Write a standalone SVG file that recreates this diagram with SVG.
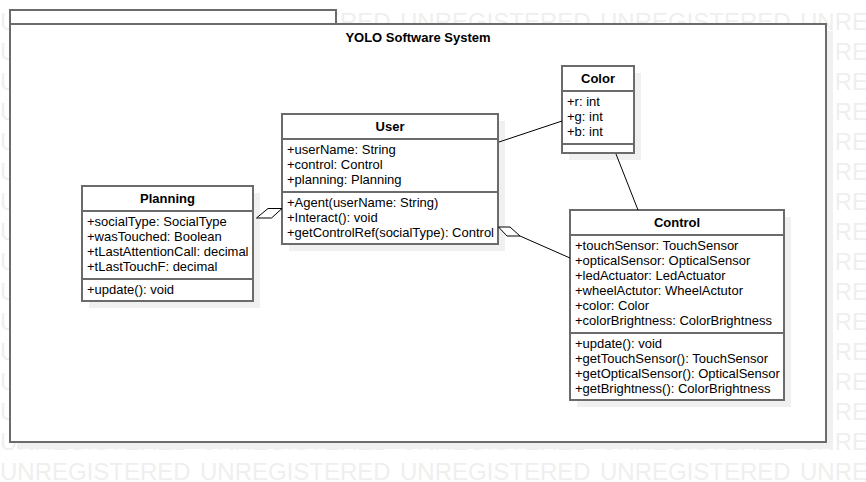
<svg xmlns="http://www.w3.org/2000/svg" xmlns:xlink="http://www.w3.org/1999/xlink" width="866" height="482" viewBox="0 0 866 482">
<style>
.wm{font-family:"Liberation Sans",Arial,sans-serif;font-size:24px;fill:#efefef}
.box{fill:#fff;stroke:#6b6b6b;stroke-width:2}
.sh{fill:#f0f0f0}
.sep{stroke:#6b6b6b;stroke-width:2}
.t{font-family:"Liberation Sans",Arial,sans-serif;font-size:13px;fill:#000}
.b{font-weight:bold;text-anchor:middle}
.ln{stroke:#000;stroke-width:1;fill:none}
.dm{stroke:#000;stroke-width:1;fill:#fff}
</style>
<defs>
<g id="wmrow" class="wm">
<text x="0">UNREGISTERED</text><text x="200">UNREGISTERED</text><text x="400">UNREGISTERED</text><text x="600">UNREGISTERED</text><text x="800">UNREGISTERED</text>
</g>
</defs>
<rect width="866" height="482" fill="#fff"/>
<g id="watermark">
<use xlink:href="#wmrow" y="30"/><use xlink:href="#wmrow" y="60"/><use xlink:href="#wmrow" y="90"/><use xlink:href="#wmrow" y="120"/>
<use xlink:href="#wmrow" y="150"/><use xlink:href="#wmrow" y="180"/><use xlink:href="#wmrow" y="210"/><use xlink:href="#wmrow" y="240"/>
<use xlink:href="#wmrow" y="270"/><use xlink:href="#wmrow" y="300"/><use xlink:href="#wmrow" y="330"/><use xlink:href="#wmrow" y="360"/>
<use xlink:href="#wmrow" y="390"/><use xlink:href="#wmrow" y="420"/><use xlink:href="#wmrow" y="450"/><use xlink:href="#wmrow" y="480"/>
</g>
<g id="package">
<rect class="sh" x="17" y="31" width="816" height="418"/>
<rect class="box" x="10" y="10" width="326" height="14"/>
<rect class="box" x="10" y="24" width="816" height="418"/>
<text class="t b" x="418" y="42">YOLO Software System</text>
</g>
<g id="Planning">
<rect class="sh" x="89" y="193" width="171" height="115"/>
<rect class="box" x="82" y="186" width="171" height="115"/>
<line class="sep" x1="82" y1="211" x2="253" y2="211"/>
<line class="sep" x1="82" y1="279" x2="253" y2="279"/>
<text class="t b" x="167.5" y="203">Planning</text>
<text class="t" x="87" y="226">+socialType: SocialType</text>
<text class="t" x="87" y="241">+wasTouched: Boolean</text>
<text class="t" x="87" y="256">+tLastAttentionCall: decimal</text>
<text class="t" x="87" y="271">+tLastTouchF: decimal</text>
<text class="t" x="87" y="294">+update(): void</text>
</g>
<g id="User">
<rect class="sh" x="289" y="121" width="216" height="130"/>
<rect class="box" x="282" y="114" width="216" height="130"/>
<line class="sep" x1="282" y1="139" x2="498" y2="139"/>
<line class="sep" x1="282" y1="192" x2="498" y2="192"/>
<text class="t b" x="390" y="131">User</text>
<text class="t" x="287" y="154">+userName: String</text>
<text class="t" x="287" y="169">+control: Control</text>
<text class="t" x="287" y="184">+planning: Planning</text>
<text class="t" x="287" y="207">+Agent(userName: String)</text>
<text class="t" x="287" y="222">+Interact(): void</text>
<text class="t" x="287" y="237">+getControlRef(socialType): Control</text>
</g>
<g id="Color">
<rect class="sh" x="569" y="73" width="72" height="87"/>
<rect class="box" x="562" y="66" width="72" height="87"/>
<line class="sep" x1="562" y1="91" x2="634" y2="91"/>
<line class="sep" x1="562" y1="144" x2="634" y2="144"/>
<text class="t b" x="598" y="83">Color</text>
<text class="t" x="567" y="106">+r: int</text>
<text class="t" x="567" y="121">+g: int</text>
<text class="t" x="567" y="136">+b: int</text>
</g>
<g id="Control">
<rect class="sh" x="577" y="217" width="214" height="190"/>
<rect class="box" x="570" y="210" width="214" height="190"/>
<line class="sep" x1="570" y1="235" x2="784" y2="235"/>
<line class="sep" x1="570" y1="333" x2="784" y2="333"/>
<text class="t b" x="677" y="227">Control</text>
<text class="t" x="575" y="250">+touchSensor: TouchSensor</text>
<text class="t" x="575" y="265">+opticalSensor: OpticalSensor</text>
<text class="t" x="575" y="280">+ledActuator: LedActuator</text>
<text class="t" x="575" y="295">+wheelActutor: WheelActutor</text>
<text class="t" x="575" y="310">+color: Color</text>
<text class="t" x="575" y="325">+colorBrightness: ColorBrightness</text>
<text class="t" x="575" y="348">+update(): void</text>
<text class="t" x="575" y="363">+getTouchSensor(): TouchSensor</text>
<text class="t" x="575" y="378">+getOpticalSensor(): OpticalSensor</text>
<text class="t" x="575" y="393">+getBrightness(): ColorBrightness</text>
</g>
<g id="connectors">
<line class="ln" x1="499" y1="142" x2="562" y2="121"/>
<line class="ln" x1="616" y1="154" x2="638" y2="210"/>
<polygon class="dm" points="256.5,218 271.5,218 282,208.5 268,208.5"/>
<polygon class="dm" points="498.5,227 510,227 520,236 507,236"/>
<line class="ln" x1="520" y1="236" x2="570" y2="258"/>
</g>
</svg>
